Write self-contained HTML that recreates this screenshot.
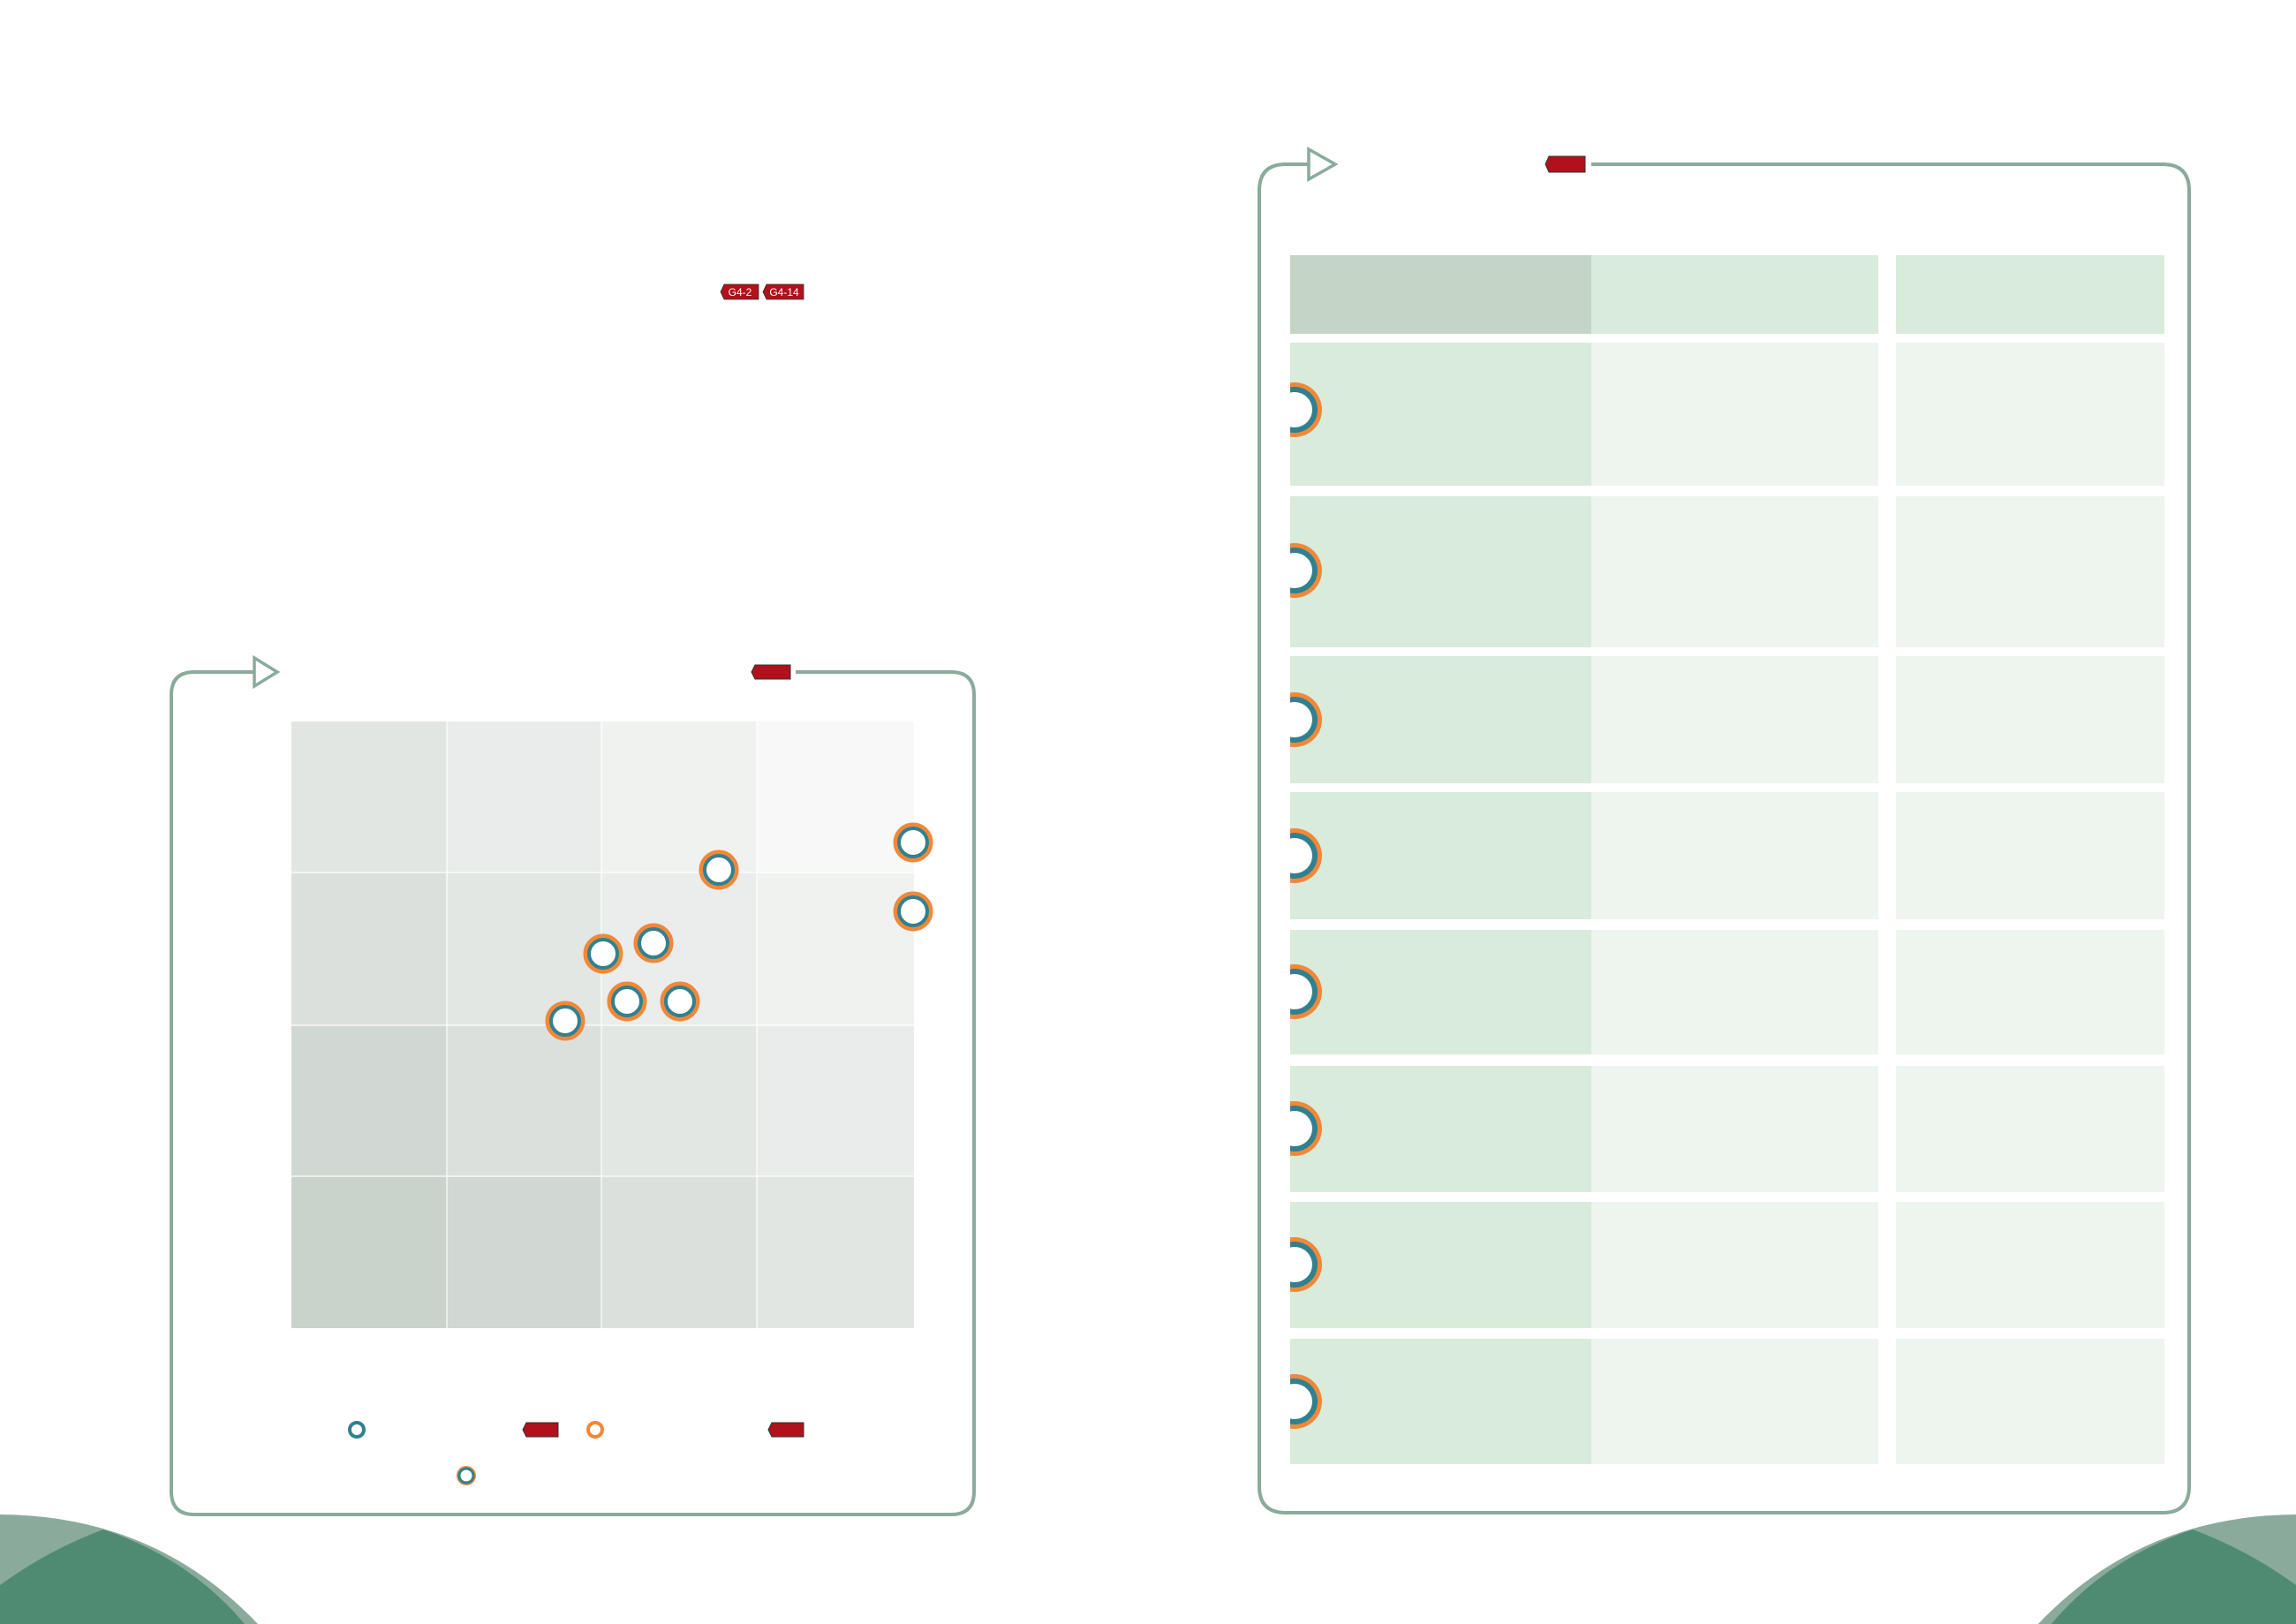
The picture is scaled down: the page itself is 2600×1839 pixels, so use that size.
<!DOCTYPE html>
<html><head><meta charset="utf-8"><style>
html,body{margin:0;padding:0;background:#fff;}
svg{display:block;}
text{font-family:"Liberation Sans",sans-serif;}
</style></head><body>
<svg width="2600" height="1839" viewBox="0 0 2600 1839" xmlns="http://www.w3.org/2000/svg">
<defs>
<g id="dot"><circle r="20" fill="#fff" stroke="#f0883a" stroke-width="5"/><circle r="16" fill="#fff" stroke="#31808f" stroke-width="4"/></g>
<g id="half"><circle r="31" fill="#f0883a"/><circle r="26" fill="#31808f"/><circle r="20" fill="#fff"/></g>
</defs>
<!-- corners -->
<path d="M0,1715 Q175,1716 292,1839 L0,1839Z" fill="#8aab9b"/>
<path d="M0,1795 Q55,1755 117,1732 Q215,1765 277,1839 L0,1839Z" fill="#4f8a73"/>
<path d="M2600,1715 Q2425,1716 2308,1839 L2600,1839Z" fill="#8aab9b"/>
<path d="M2600,1795 Q2545,1755 2483,1732 Q2385,1765 2323,1839 L2600,1839Z" fill="#4f8a73"/>
<!-- small tags -->
<path d="M820,322 H859 V339 H820 L816,330.5Z" fill="#b0111a" stroke="#333" stroke-width="0.8"/>
<text x="838" y="335" font-size="12" fill="#fff" text-anchor="middle">G4-2</text>
<path d="M868,322 H910 V339 H868 L864,330.5Z" fill="#b0111a" stroke="#333" stroke-width="0.8"/>
<text x="888" y="335" font-size="12" fill="#fff" text-anchor="middle">G4-14</text>
<!-- left panel -->
<path d="M288,761 H220 Q194,761 194,787 V1689 Q194,1715 220,1715 H1077 Q1103,1715 1103,1689 V787 Q1103,761 1077,761 H901" fill="none" stroke="#8aab9b" stroke-width="4"/>
<path d="M288,745 L314,761 L288,777Z" fill="#fff" stroke="#8aab9b" stroke-width="3.5"/>
<path d="M855,753 H895 V769 H855 L851,761Z" fill="#b0111a" stroke="#333" stroke-width="1"/>
<g>
<rect x="330" y="817" width="176" height="171" fill="#e1e6e2"/><rect x="506" y="817" width="175" height="171" fill="#e9ecea"/><rect x="681" y="817" width="176" height="171" fill="#f0f2f0"/><rect x="857" y="817" width="178" height="171" fill="#f7f8f7"/>
<rect x="330" y="988" width="176" height="173" fill="#dbe0dc"/><rect x="506" y="988" width="175" height="173" fill="#e3e7e4"/><rect x="681" y="988" width="176" height="173" fill="#eaedeb"/><rect x="857" y="988" width="178" height="173" fill="#f0f2f0"/>
<rect x="330" y="1161" width="176" height="171" fill="#d1d8d3"/><rect x="506" y="1161" width="175" height="171" fill="#dbe0dc"/><rect x="681" y="1161" width="176" height="171" fill="#e3e7e4"/><rect x="857" y="1161" width="178" height="171" fill="#e9ecea"/>
<rect x="330" y="1332" width="176" height="172" fill="#c9d3cb"/><rect x="506" y="1332" width="175" height="172" fill="#d1d8d3"/><rect x="681" y="1332" width="176" height="172" fill="#dbe0dc"/><rect x="857" y="1332" width="178" height="172" fill="#e1e6e2"/>
<path d="M506,817V1504M681,817V1504M857,817V1504M330,988H1035M330,1161H1035M330,1332H1035" stroke="#fff" stroke-width="1.5" opacity="0.8"/>
</g>
<use href="#dot" x="814" y="985"/><use href="#dot" x="1034" y="954"/><use href="#dot" x="1034" y="1032"/>
<use href="#dot" x="740" y="1068"/><use href="#dot" x="683" y="1080"/><use href="#dot" x="710" y="1134"/>
<use href="#dot" x="770" y="1134"/><use href="#dot" x="640" y="1156"/>
<circle cx="404" cy="1619" r="8" fill="#fff" stroke="#31808f" stroke-width="4"/>
<path d="M596,1611 H632 V1627 H596 L592,1619Z" fill="#b0111a" stroke="#333" stroke-width="1"/>
<circle cx="674" cy="1619" r="8" fill="#fff" stroke="#f0883a" stroke-width="4"/>
<path d="M874,1611 H910 V1627 H874 L870,1619Z" fill="#b0111a" stroke="#333" stroke-width="1"/>
<circle cx="528" cy="1671" r="10" fill="#fff" stroke="#f0883a" stroke-width="2"/><circle cx="528" cy="1671" r="8" fill="#fff" stroke="#31808f" stroke-width="3"/>
<!-- right panel -->
<path d="M1483,186 H1456 Q1426,186 1426,216 V1683 Q1426,1713 1456,1713 H2449 Q2479,1713 2479,1683 V216 Q2479,186 2449,186 H1802" fill="none" stroke="#8aab9b" stroke-width="4"/>
<path d="M1482,169 L1512,186 L1482,203Z" fill="#fff" stroke="#8aab9b" stroke-width="3.5"/>
<path d="M1754,177 H1795 V195 H1754 L1750,186Z" fill="#b0111a" stroke="#333" stroke-width="1"/>
<rect x="1461" y="289" width="341" height="89" fill="#c4d5c7"/>
<rect x="1802" y="289" width="325" height="89" fill="#d9ebda"/>
<rect x="2147" y="289" width="304" height="89" fill="#d9ebda"/>
<g id="rows">
<rect x="1461" y="388" width="341" height="162" fill="#d9ebda"/><rect x="1802" y="388" width="325" height="162" fill="#eef5ee"/><rect x="2147" y="388" width="304" height="162" fill="#eef5ee"/>
<rect x="1461" y="562" width="341" height="171" fill="#d9ebda"/><rect x="1802" y="562" width="325" height="171" fill="#eef5ee"/><rect x="2147" y="562" width="304" height="171" fill="#eef5ee"/>
<rect x="1461" y="743" width="341" height="144" fill="#d9ebda"/><rect x="1802" y="743" width="325" height="144" fill="#eef5ee"/><rect x="2147" y="743" width="304" height="144" fill="#eef5ee"/>
<rect x="1461" y="897" width="341" height="144" fill="#d9ebda"/><rect x="1802" y="897" width="325" height="144" fill="#eef5ee"/><rect x="2147" y="897" width="304" height="144" fill="#eef5ee"/>
<rect x="1461" y="1053" width="341" height="141" fill="#d9ebda"/><rect x="1802" y="1053" width="325" height="141" fill="#eef5ee"/><rect x="2147" y="1053" width="304" height="141" fill="#eef5ee"/>
<rect x="1461" y="1207" width="341" height="143" fill="#d9ebda"/><rect x="1802" y="1207" width="325" height="143" fill="#eef5ee"/><rect x="2147" y="1207" width="304" height="143" fill="#eef5ee"/>
<rect x="1461" y="1361" width="341" height="143" fill="#d9ebda"/><rect x="1802" y="1361" width="325" height="143" fill="#eef5ee"/><rect x="2147" y="1361" width="304" height="143" fill="#eef5ee"/>
<rect x="1461" y="1516" width="341" height="142" fill="#d9ebda"/><rect x="1802" y="1516" width="325" height="142" fill="#eef5ee"/><rect x="2147" y="1516" width="304" height="142" fill="#eef5ee"/>
</g>
<clipPath id="cl"><rect x="1461" y="0" width="400" height="1839"/></clipPath>
<g clip-path="url(#cl)">
<use href="#half" x="1466" y="464"/><use href="#half" x="1466" y="646"/><use href="#half" x="1466" y="815"/><use href="#half" x="1466" y="969"/>
<use href="#half" x="1466" y="1123"/><use href="#half" x="1466" y="1278"/><use href="#half" x="1466" y="1432"/><use href="#half" x="1466" y="1587"/>
</g>
</svg>
</body></html>
